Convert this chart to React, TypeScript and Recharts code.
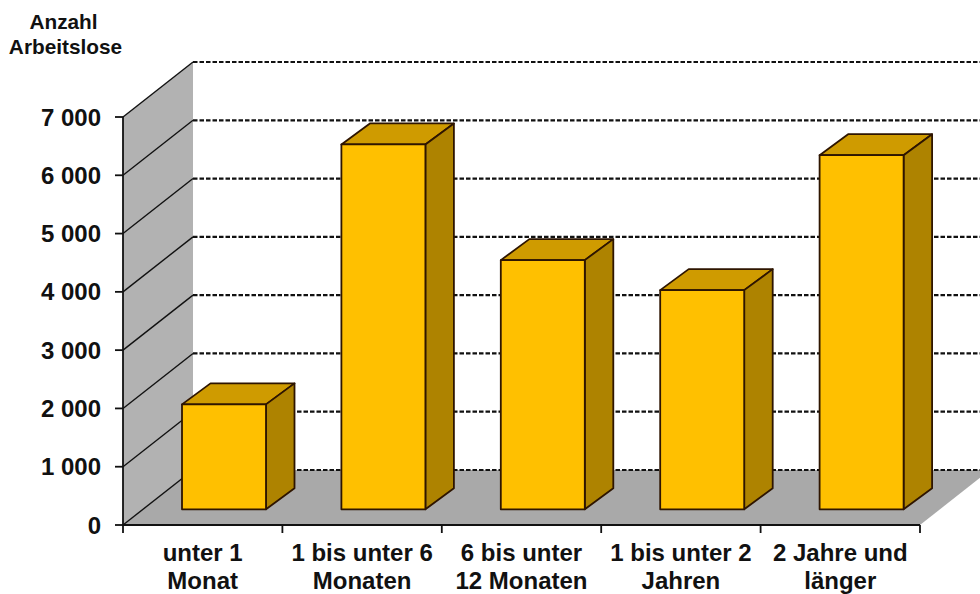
import { Bar, BarChart, CartesianGrid, ReferenceArea, XAxis, YAxis } from "recharts";

const categories = ["unter 1|Monat", "1 bis unter 6|Monaten", "6 bis unter|12 Monaten", "1 bis unter 2|Jahren", "2 Jahre und|länger"];
const values = [1800, 6260, 4275, 3760, 6075];
const yTicks = [0, 1000, 2000, 3000, 4000, 5000, 6000, 7000];

const data = categories.map((name, i) => ({ name, value: values[i] }));

const font = "'Liberation Sans', Arial, sans-serif";
const edge = "#2e1500";

// 3D offsets of the back wall and of the bars
const wallDx = 70;
const wallDy = 55;
const barDx = 21;
const barDy = 15.7;
const depthDx = 28.5;
const depthDy = 21;

function Wall({ x, y, width, height }: any) {
  const bottom = y + height;
  const right = x + width;
  return (
    <g>
      <polygon points={`${x},${y} ${x + wallDx},${y - wallDy} ${x + wallDx},${bottom - wallDy} ${x},${bottom}`} fill="#b2b2b2" />
      <polygon points={`${x},${bottom} ${x + wallDx},${bottom - wallDy} ${right + wallDx},${bottom - wallDy} ${right},${bottom}`} fill="#a9a9a9" />
    </g>
  );
}

function GridLine({ x1, y1 }: any) {
  return (
    <g>
      <line x1={x1} y1={y1} x2={x1 + wallDx} y2={y1 - wallDy} stroke="#111" strokeWidth={1.4} />
      <line x1={x1 + wallDx} y1={y1 - wallDy} x2={980} y2={y1 - wallDy} stroke="#111" strokeWidth={2.2} strokeDasharray="4.5 2" />
    </g>
  );
}

function Bar3D({ x, y, width, height }: any) {
  const left = x + barDx;
  const top = y - barDy;
  const right = left + width;
  const bottom = top + height;
  return (
    <g stroke={edge} strokeWidth={1.8} strokeLinejoin="round">
      <polygon points={`${left},${top} ${left + depthDx},${top - depthDy} ${right + depthDx},${top - depthDy} ${right},${top}`} fill="#cf9b00" />
      <polygon points={`${right},${top} ${right + depthDx},${top - depthDy} ${right + depthDx},${bottom - depthDy} ${right},${bottom}`} fill="#ae8300" />
      <rect x={left} y={top} width={width} height={height} fill="#ffc000" />
    </g>
  );
}

function CategoryTick({ x, y, payload, index }: any) {
  const lines = String(payload.value).split("|");
  const half = 79.7;
  const axisY = y - 8;
  return (
    <g>
      <line x1={x - half} y1={axisY} x2={x - half} y2={axisY + 8} stroke="#111" strokeWidth={1.8} />
      {index === categories.length - 1 && <line x1={x + half} y1={axisY} x2={x + half} y2={axisY + 8} stroke="#111" strokeWidth={1.8} />}
      {lines.map((line, i) => (
        <text key={line} x={x} y={axisY + 36 + i * 28} textAnchor="middle" fontFamily={font} fontWeight="bold" fontSize={24} fill="#111">
          {line}
        </text>
      ))}
    </g>
  );
}

const formatThousands = (v: number) => (v === 0 ? "0" : `${v / 1000} 000`);

export default function App() {
  return (
    <div style={{ position: "absolute", left: 0, top: 0, width: 980, height: 594, overflow: "hidden", background: "#fff" }}>
      <BarChart width={980} height={594} data={data} margin={{ top: 117, right: 60, bottom: 0, left: 63 }}>
        <ReferenceArea y1={0} y2={7000} shape={Wall} ifOverflow="visible" zIndex={-200} />
        <CartesianGrid vertical={false} horizontal={(props: any) => <GridLine key={props.y} x1={props.x1} y1={props.y1} />} />
        <XAxis dataKey="name" height={69} interval={0} tick={CategoryTick} tickLine={false} axisLine={{ stroke: "#111", strokeWidth: 1.8 }} />
        <YAxis
          width={60}
          domain={[0, 7000]}
          ticks={yTicks}
          tickFormatter={formatThousands}
          tickSize={8}
          tickMargin={14}
          tick={{ fontFamily: font, fontWeight: "bold", fontSize: 24, fill: "#111" }}
          tickLine={{ stroke: "#111", strokeWidth: 1.8 }}
          axisLine={{ stroke: "#111", strokeWidth: 1.8 }}
        />
        <Bar dataKey="value" barSize={84} shape={Bar3D} isAnimationActive={false} />
      </BarChart>
      <div style={{ position: "absolute", left: 0, top: 9, width: 131, textAlign: "center", fontFamily: font, fontWeight: "bold", fontSize: 20.8, lineHeight: "25px", color: "#111" }}>
        <span style={{ position: "relative", left: -2 }}>Anzahl</span>
        <br />
        Arbeitslose
      </div>
    </div>
  );
}
